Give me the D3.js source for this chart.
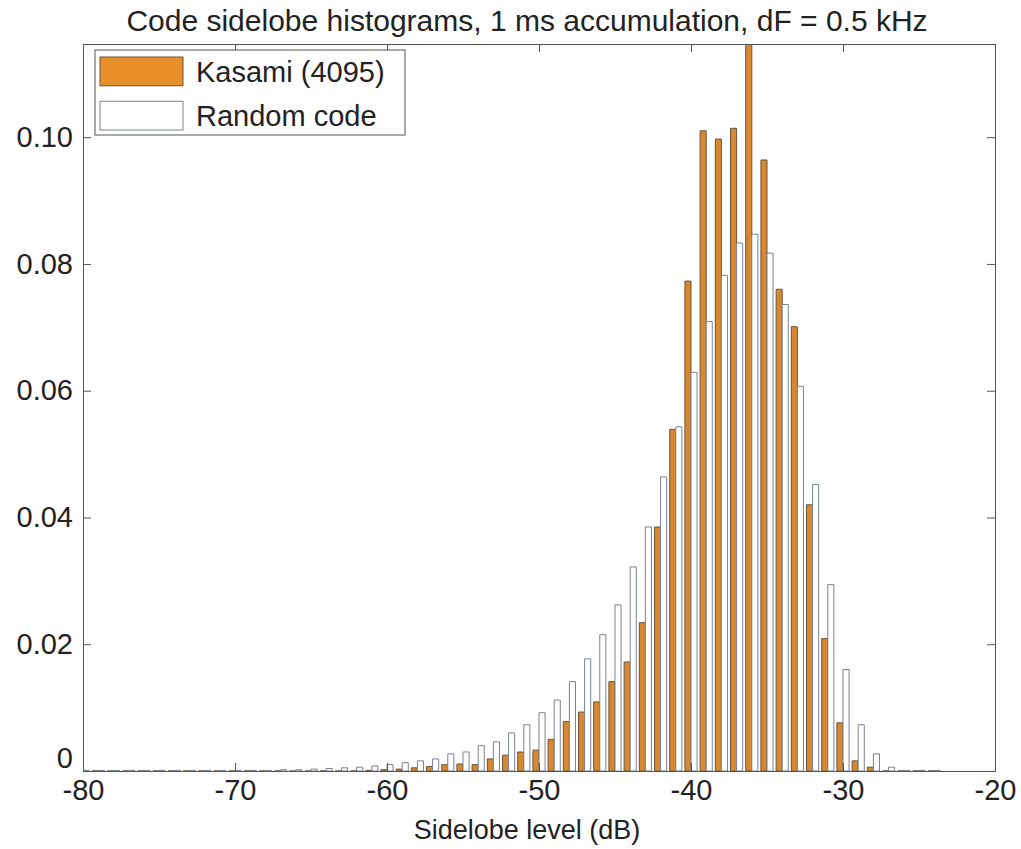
<!DOCTYPE html>
<html>
<head>
<meta charset="utf-8">
<script src="https://cdnjs.cloudflare.com/ajax/libs/d3/7.8.5/d3.min.js"></script>
<style>
  body { margin: 0; background: #fff; }
  text { font-family: "Liberation Sans", Arial, sans-serif; fill: #222; }
</style>
</head>
<body>
<svg id="chart" width="1021" height="849"></svg>
<script>
// bin centres (dB), one bar pair per bin
let bins = d3.range(-80, -23, 1);

// fraction of sidelobes in each 1 dB bin
let kasami = [
    0, 0, 0, 0, 0, 0, 0, 0, 0, 0,                      // -80 .. -71
    0, 0, 0, 0, 0, 0, 0, 0, 0,                         // -70 .. -62
    0.0001, 0.0002, 0.0003, 0.0005, 0.0007,            // -61 .. -57
    0.0010, 0.0011, 0.0010, 0.0019, 0.0025,            // -56 .. -52
    0.0030, 0.0033, 0.0050, 0.0078, 0.0093,            // -51 .. -47
    0.0109, 0.0141, 0.0172, 0.0234, 0.0385,            // -46 .. -42
    0.0539, 0.0773, 0.1010, 0.0997, 0.1014,            // -41 .. -37
    0.1180, 0.0964, 0.0760, 0.0701, 0.0420,            // -36 .. -32
    0.0209, 0.0076, 0.0016, 0.0006, 0,                 // -31 .. -27
    0, 0, 0                                            // -26 .. -24
];
let randomCode = [
    0.0001, 0.0001, 0.0001, 0.0001, 0.0001,            // -80 .. -76
    0.0001, 0.0001, 0.0001, 0.0001, 0.0001,            // -75 .. -71
    0.0001, 0.0001, 0.0001, 0.0002, 0.0002,            // -70 .. -66
    0.0003, 0.0004, 0.0005, 0.0006, 0.0008,            // -65 .. -61
    0.0010, 0.0013, 0.0016, 0.0019, 0.0027,            // -60 .. -56
    0.0030, 0.0040, 0.0046, 0.0060, 0.0073,            // -55 .. -51
    0.0092, 0.0112, 0.0141, 0.0177, 0.0215,            // -50 .. -46
    0.0262, 0.0322, 0.0385, 0.0464, 0.0543,            // -45 .. -41
    0.0629, 0.0709, 0.0782, 0.0833, 0.0847,            // -40 .. -36
    0.0817, 0.0736, 0.0607, 0.0452, 0.0294,            // -35 .. -31
    0.0160, 0.0073, 0.0027, 0.0006, 0.0001,            // -30 .. -26
    0.0001, 0.0001                                     // -25 .. -24
];
let seriesNames = ["Kasami (4095)", "Random code"];
let xTicks = [-80, -70, -60, -50, -40, -30, -20];
let yTicks = [0, 0.02, 0.04, 0.06, 0.08, 0.10];

let svg = d3.select("#chart");
let margin = {top: 44, right: 26, bottom: 78, left: 83};
let width = +svg.attr("width") - margin.left - margin.right;
let height = +svg.attr("height") - margin.top - margin.bottom;

let g = svg.append("g").attr("transform", `translate(${margin.left}, ${margin.top})`);

let x = d3.scaleLinear().domain([-80, -20]).range([0, width]);
let y = d3.scaleLinear().domain([0, 0.1147]).range([height, 0]);

const AXIS_COLOR = "#555";
const KASAMI_FILL = "#d98830";
const KASAMI_EDGE = "#6b5438";
const RANDOM_EDGE = "#7a8290";

// bars that spill over the top get clipped like in matlab
svg.append("defs").append("clipPath").attr("id", "plot-clip")
    .append("rect").attr("width", width).attr("height", height + 1);

// each bin gets a pair: kasami on the left, random on the right
let binW = x(-79) - x(-80);
let barW = binW * 0.4;
let series = [
    {name: seriesNames[0], values: kasami, offset: -barW, fill: KASAMI_FILL, edge: KASAMI_EDGE},
    {name: seriesNames[1], values: randomCode, offset: 0, fill: "#fff", edge: RANDOM_EDGE}
];

// paths instead of rects so that empty bins still show up as a flat line
let barPath = (x0, v) => {
    let y0 = y(0), y1 = y(v);
    return `M${x0},${y0}V${y1}H${x0 + barW}V${y0}Z`;
};

let bars = g.append("g").attr("clip-path", "url(#plot-clip)");
bars.selectAll("g")
    .data(series)
    .enter()
    .append("g")
    .each(function(s) {
        d3.select(this).selectAll("path")
            .data(bins.map((b, i) => ({bin: b, v: s.values[i]})))
            .enter().append("path")
            .attr("d", (d) => barPath(x(d.bin) + s.offset, d.v))
            .attr("fill", s.fill)
            .attr("stroke", s.edge)
            .attr("stroke-width", 1);
    });

// box around the plot, ticks on all four sides pointing inwards
let fontSize = 29;
let xAxis = g.append("g")
    .attr("transform", `translate(0, ${height})`)
    .call(d3.axisBottom(x).tickValues(xTicks).tickSizeInner(-8).tickSizeOuter(0).tickPadding(8)
        .tickFormat((d) => String(d)));
let yAxis = g.append("g")
    .call(d3.axisLeft(y).tickValues(yTicks).tickSizeInner(-8).tickSizeOuter(0).tickPadding(10)
        .tickFormat((d) => d === 0 ? "0" : d3.format(".2f")(d)));
g.append("g")
    .call(d3.axisTop(x).tickValues(xTicks).tickSizeInner(-8).tickSizeOuter(0).tickFormat(""));
g.append("g")
    .attr("transform", `translate(${width}, 0)`)
    .call(d3.axisRight(y).tickValues(yTicks).tickSizeInner(-8).tickSizeOuter(0).tickFormat(""));

g.selectAll(".domain, .tick line").attr("stroke", AXIS_COLOR);
g.selectAll(".tick text")
    .attr("font-size", fontSize)
    .style("fill", "#222");
// the "0" on the y axis sits a bit higher so it clears the x labels
yAxis.selectAll(".tick text").filter((d) => d === 0).attr("dy", "-0.12em");

// title and x label
svg.append("text")
    .attr("x", margin.left + width / 2 - 12)
    .attr("y", 31)
    .attr("text-anchor", "middle")
    .attr("font-size", 30)
    .text("Code sidelobe histograms, 1 ms accumulation, dF = 0.5 kHz");
svg.append("text")
    .attr("x", margin.left + width / 2 - 12)
    .attr("y", 839)
    .attr("text-anchor", "middle")
    .attr("font-size", 27)
    .text("Sidelobe level (dB)");

// legend top left
let legend = svg.append("g").attr("transform", "translate(95, 50)");
legend.append("rect")
    .attr("width", 310)
    .attr("height", 85)
    .attr("fill", "#fff")
    .attr("stroke", AXIS_COLOR);
let legendY = d3.scaleBand().domain(seriesNames).range([7, 80]).paddingInner(0.35);
let items = legend.selectAll("g.item")
    .data(series)
    .enter()
    .append("g")
    .attr("class", "item")
    .attr("transform", (d) => `translate(0, ${legendY(d.name)})`);
items.append("rect")
    .attr("x", 5)
    .attr("width", 83)
    .attr("height", legendY.bandwidth())
    .attr("fill", (d) => d.name === seriesNames[0] ? "#e8902c" : "#fff")
    .attr("stroke", (d) => d.name === seriesNames[0] ? KASAMI_EDGE : RANDOM_EDGE);
items.append("text")
    .attr("x", 101)
    .attr("y", legendY.bandwidth() / 2)
    .attr("dy", "0.35em")
    .attr("font-size", fontSize)
    .text((d) => d.name);
</script>
</body>
</html>
